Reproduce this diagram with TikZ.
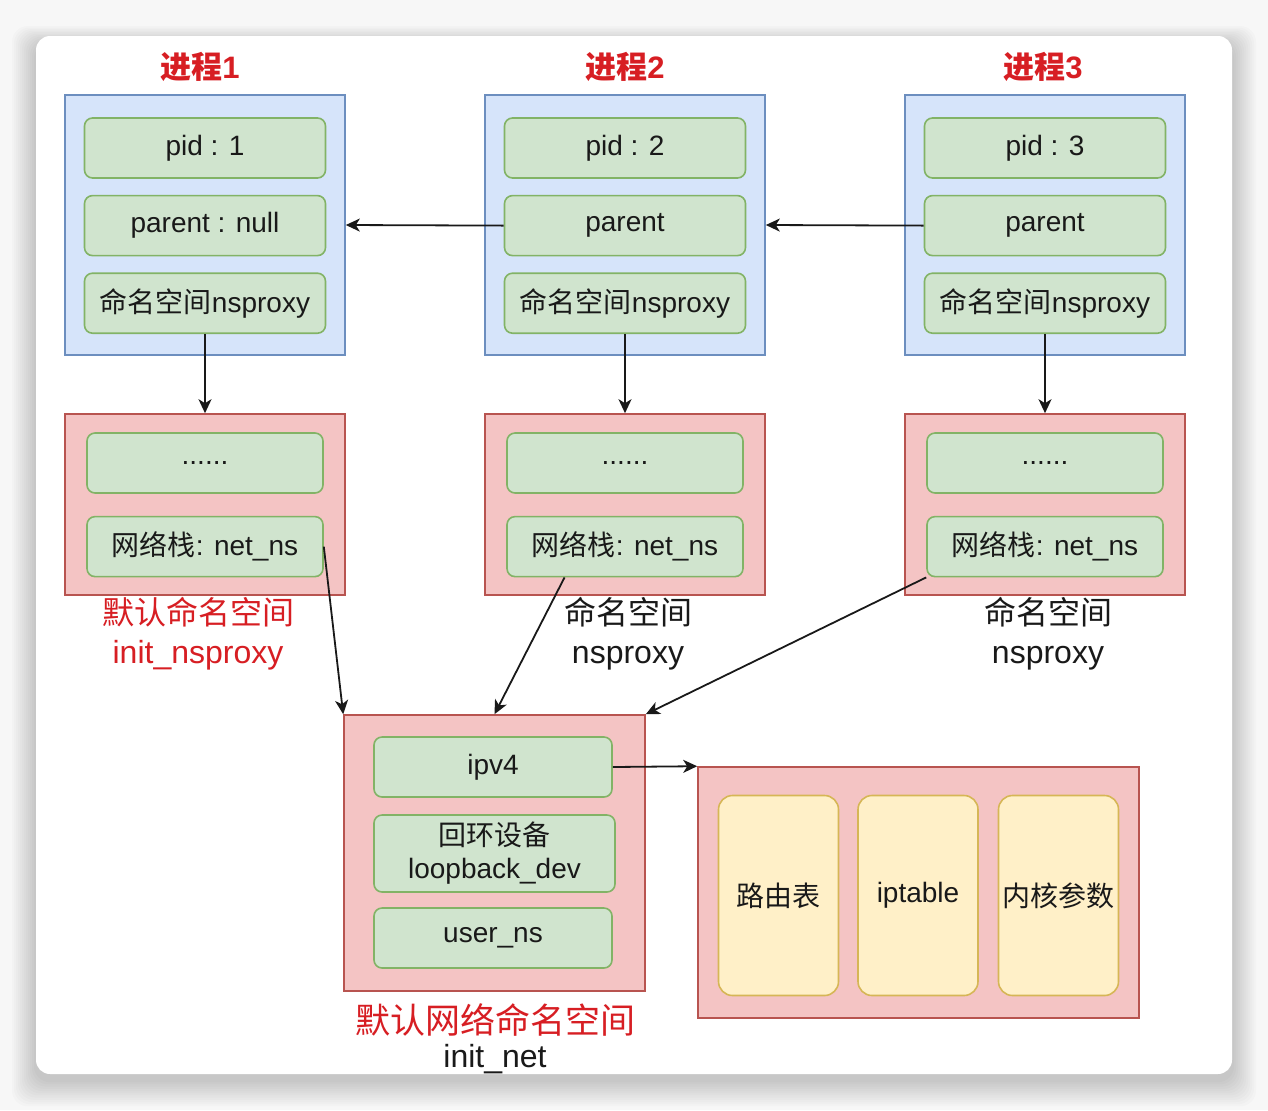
\documentclass[tikz,border=0pt]{standalone}
\usepackage{fontspec}
\setmainfont{Liberation Sans}
\newfontfamily\cjk{Noto Sans CJK SC}
\usepackage{tikz}
\usetikzlibrary{arrows.meta, positioning, calc}
\definecolor{pageGray}{RGB}{247, 247, 247}
\definecolor{procFill}{RGB}{214, 228, 250}
\definecolor{procBorder}{RGB}{108, 142, 191}
\definecolor{fieldFill}{RGB}{208, 228, 206}
\definecolor{fieldBorder}{RGB}{130, 179, 102}
\definecolor{nsFill}{RGB}{244, 196, 196}
\definecolor{nsBorder}{RGB}{184, 84, 80}
\definecolor{itemFill}{RGB}{255, 240, 200}
\definecolor{itemBorder}{RGB}{214, 182, 86}
\definecolor{labelRed}{RGB}{215, 30, 35}
\definecolor{inkDark}{RGB}{25, 25, 25}

\begin{document}
\begin{tikzpicture}[
    x=0.5pt, y=-0.5pt,
    proc/.style={
        rectangle,
        draw=procBorder,
        fill=procFill,
        line width=0.8pt,
        minimum width=140pt,
        minimum height=130pt
    },
    field/.style={
        rectangle,
        rounded corners=4pt,
        draw=fieldBorder,
        fill=fieldFill,
        line width=0.8pt,
        minimum width=120.5pt,
        minimum height=30pt,
        inner sep=0pt,
        align=center,
        text=inkDark,
        font=\fontsize{14pt}{16.5pt}\selectfont
    },
    nsbox/.style={
        rectangle,
        draw=nsBorder,
        fill=nsFill,
        line width=0.8pt
    },
    item/.style={
        rectangle,
        rounded corners=7pt,
        draw=itemBorder,
        fill=itemFill,
        line width=0.8pt,
        minimum width=60pt,
        minimum height=100pt,
        inner sep=0pt,
        text=inkDark,
        font=\fontsize{14pt}{16.5pt}\selectfont
    },
    title/.style={
        text=labelRed,
        font=\bfseries\fontsize{15.5pt}{18pt}\selectfont
    },
    caption/.style={
        align=center,
        inner sep=0pt,
        font=\fontsize{16pt}{19.5pt}\selectfont
    },
    arrow/.style={
        -{Stealth[length=7pt, width=6.5pt, inset=2pt]},
        line width=0.9pt,
        draw=inkDark
    }
]

% Page and card
\useasboundingbox (0,0) rectangle (1268,1110);
\fill[pageGray] (0,0) rectangle (1268,1110);
\foreach \i in {1,...,12}
    \fill[black, opacity=0.016, rounded corners=8pt] (36-2*\i,44-1.5*\i) rectangle (1232+2*\i,1080+2.2*\i);
\fill[white, rounded corners=7pt] (36,36) rectangle (1232,1074);

% Process 1
\node[title] (title1) at (200,67) {{\cjk 进程}1};
\node[proc] (proc1) at (205,225) {};
\node[field] (pid1) at (205,148) {pid : 1};
\node[field, below=8pt of pid1] (parent1) {parent : null};
\node[field, below=8pt of parent1] (ns1) {{\cjk 命名空间}nsproxy};

% Process 2
\node[title] (title2) at (625,67) {{\cjk 进程}2};
\node[proc] (proc2) at (625,225) {};
\node[field] (pid2) at (625,148) {pid : 2};
\node[field, below=8pt of pid2] (parent2) {parent};
\node[field, below=8pt of parent2] (ns2) {{\cjk 命名空间}nsproxy};

% Process 3
\node[title] (title3) at (1043,67) {{\cjk 进程}3};
\node[proc] (proc3) at (1045,225) {};
\node[field] (pid3) at (1045,148) {pid : 3};
\node[field, below=8pt of pid3] (parent3) {parent};
\node[field, below=8pt of parent3] (ns3) {{\cjk 命名空间}nsproxy};

% Namespace proxies
\node[nsbox, minimum width=140pt, minimum height=90.5pt] (net1) at (205,504.5) {};
\node[field, minimum width=118pt] (etc1) at (205,463) {......};
\node[field, minimum width=118pt, below=11pt of etc1] (netns1) {{\cjk 网络栈}: net\_ns};
\node[caption, text=labelRed] (cap1) at (198,634) {{\cjk 默认命名空间}\\init\_nsproxy};

\node[nsbox, minimum width=140pt, minimum height=90.5pt] (net2) at (625,504.5) {};
\node[field, minimum width=118pt] (etc2) at (625,463) {......};
\node[field, minimum width=118pt, below=11pt of etc2] (netns2) {{\cjk 网络栈}: net\_ns};
\node[caption, text=inkDark] (cap2) at (628,634) {{\cjk 命名空间}\\nsproxy};

\node[nsbox, minimum width=140pt, minimum height=90.5pt] (net3) at (1045,504.5) {};
\node[field, minimum width=118pt] (etc3) at (1045,463) {......};
\node[field, minimum width=118pt, below=11pt of etc3] (netns3) {{\cjk 网络栈}: net\_ns};
\node[caption, text=inkDark] (cap3) at (1048,634) {{\cjk 命名空间}\\nsproxy};

% Default network namespace
\node[nsbox, minimum width=150.5pt, minimum height=138pt] (init) at (494.5,853) {};
\node[field, minimum width=119pt] (ipv4) at (493,767) {ipv4};
\node[field, minimum height=38.5pt] (loop) at (494.5,853.5) {{\cjk 回环设备}\\loopback\_dev};
\node[field, minimum width=119pt] (userns) at (493,938) {user\_ns};
\node[caption, text=labelRed, font=\fontsize{17.5pt}{20pt}\selectfont] (cap4) at (495,1020) {\cjk 默认网络命名空间};
\node[caption, text=inkDark] (cap5) at (495,1059) {init\_net};

% Kernel tables
\node[nsbox, minimum width=220.5pt, minimum height=125.5pt] (kernel) at (918.5,892.5) {};
\node[item] (route) at (778.5,895.5) {\cjk 路由表};
\node[item] (iptab) at (918,895.5) {iptable};
\node[item] (params) at (1058.5,895.5) {\cjk 内核参数};

% Connectors
\draw[arrow] (parent2.west) -- (proc1.east);
\draw[arrow] (parent3.west) -- (proc2.east);
\draw[arrow] (ns1.south) -- (net1.north);
\draw[arrow] (ns2.south) -- (net2.north);
\draw[arrow] (ns3.south) -- (net3.north);
\draw[arrow] (netns1.east) -- (init.north west);
\draw[arrow] (netns2.207) -- (init.north);
\draw[arrow] (netns3.south west) -- (init.north east);
\draw[arrow] (ipv4.east) -- (kernel.north west);

\end{tikzpicture}
\end{document}
